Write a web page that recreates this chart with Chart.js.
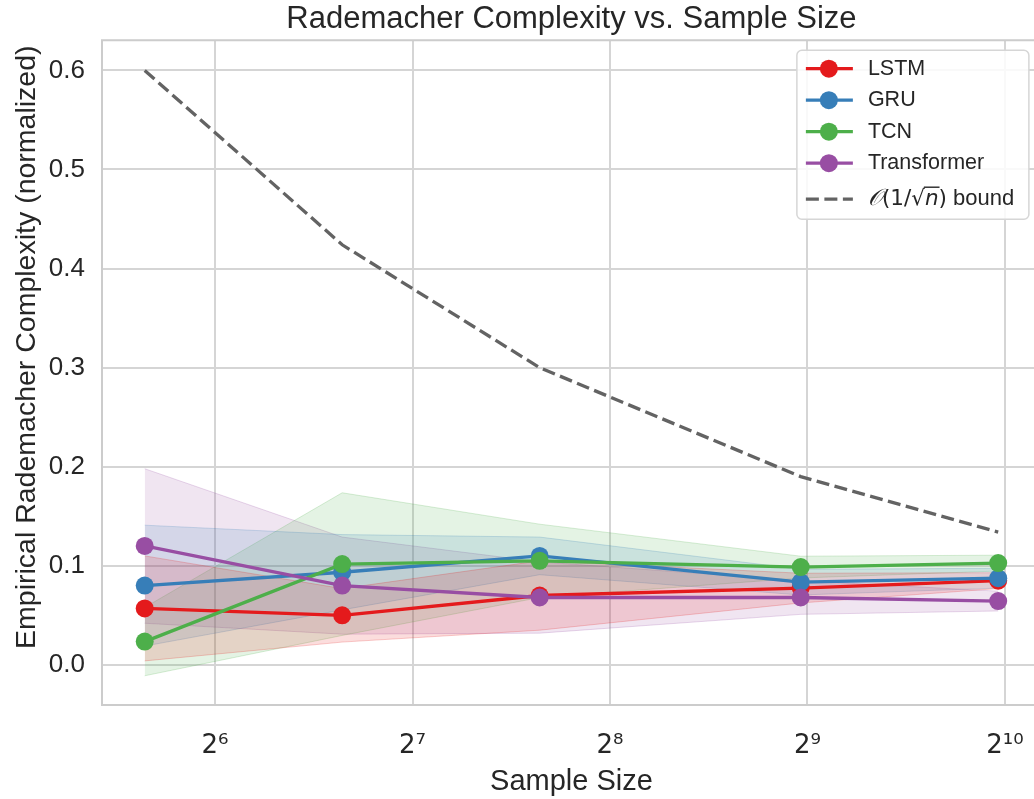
<!DOCTYPE html>
<html><head><meta charset="utf-8">
<script src="https://cdn.jsdelivr.net/npm/chart.js@4/dist/chart.umd.min.js"></script>
<style>html,body{margin:0;padding:0;overflow:hidden;background:#fff}</style>
</head><body>
<div style="width:1050px;height:799px"><canvas id="c" width="1050" height="799"></canvas></div>
<script>
// ---- data ----
const sampleSizes = [50, 100, 200, 500, 1000];
const lstmMean  = [0.057, 0.050, 0.070, 0.0775, 0.085];
const lstmStd   = [0.053, 0.027, 0.035, 0.015, 0.008];
const gruMean   = [0.080, 0.0935, 0.110, 0.0835, 0.0875];
const gruStd    = [0.061, 0.038, 0.019, 0.013, 0.010];
const tcnMean   = [0.0235, 0.1017, 0.105, 0.0987, 0.1027];
const tcnStd    = [0.0345, 0.072, 0.037, 0.011, 0.008];
const transMean = [0.120, 0.080, 0.068, 0.068, 0.0644];
const transStd  = [0.078, 0.049, 0.036, 0.017, 0.010];
const boundValues = [0.600, 0.424, 0.300, 0.190, 0.134];
const modelNames = ['LSTM', 'GRU', 'TCN', 'Transformer'];
const boundLabel = 'bound';
const xTicks = [64, 128, 256, 512, 1024];
const xTickLabels = ['2\u2076', '2\u2077', '2\u2078', '2\u2079', '2\u00B9\u2070'];
const yTicks = [0.0, 0.1, 0.2, 0.3, 0.4, 0.5, 0.6];
const titleText = 'Rademacher Complexity vs. Sample Size';
const xTitle = 'Sample Size';
const yTitle = 'Empirical Rademacher Complexity (normalized)';

// ---- styles ----
const colors = [[228,26,28],[55,126,184],[77,175,74],[152,78,163]];
const means = [lstmMean, gruMean, tcnMean, transMean];
const stds = [lstmStd, gruStd, tcnStd, transStd];
const rgba = (c, a) => `rgba(${c[0]},${c[1]},${c[2]},${a})`;
const FONT = '"Liberation Sans", Arial, sans-serif';
const TXT = '#262626';

const datasets = [];
modelNames.forEach((name, k) => {
  const c = colors[k];
  datasets.push({
    label: name + ' lower', isBand: true,
    data: sampleSizes.map((x, i) => ({x, y: means[k][i] - stds[k][i]})),
    borderColor: rgba(c, 0.22), borderWidth: 1, pointRadius: 0, fill: false, order: 20, tension: 0
  });
  datasets.push({
    label: name + ' upper', isBand: true,
    data: sampleSizes.map((x, i) => ({x, y: means[k][i] + stds[k][i]})),
    borderColor: rgba(c, 0.22), borderWidth: 1, pointRadius: 0,
    fill: '-1', backgroundColor: rgba(c, 0.15), order: 20, tension: 0
  });
});
modelNames.forEach((name, k) => {
  const c = colors[k];
  datasets.push({
    label: name, inLegend: true, markerColor: rgba(c, 1),
    data: sampleSizes.map((x, i) => ({x, y: means[k][i]})),
    borderColor: rgba(c, 1), backgroundColor: rgba(c, 1), borderWidth: 3.3,
    pointRadius: 9, pointBorderWidth: 0, pointBackgroundColor: rgba(c, 1),
    fill: false, tension: 0, order: 4 - k
  });
});
datasets.push({
  label: boundLabel, inLegend: true, isBound: true,
  data: sampleSizes.map((x, i) => ({x, y: boundValues[i]})),
  borderColor: '#636363', borderWidth: 3.3, borderDash: [13, 5.5],
  pointRadius: 0, fill: false, tension: 0, order: 0
});

// spines (left, top, bottom) and y-axis title
const framePlugin = {
  id: 'frame',
  beforeDatasetsDraw(chart) {
    const {ctx, chartArea: a} = chart;
    ctx.save();
    ctx.strokeStyle = '#cccccc';
    ctx.lineWidth = 2;
    ctx.beginPath();
    ctx.moveTo(a.right + 5, a.top); ctx.lineTo(a.left, a.top);
    ctx.lineTo(a.left, a.bottom); ctx.lineTo(a.right + 5, a.bottom);
    ctx.stroke();
    ctx.restore();
  },
  afterDraw(chart) {
    const {ctx, chartArea: a} = chart;
    ctx.save();
    ctx.translate(27, a.top + 307);
    ctx.rotate(-Math.PI / 2);
    ctx.fillStyle = TXT;
    ctx.font = '28.5px ' + FONT;
    ctx.textAlign = 'center';
    ctx.textBaseline = 'middle';
    ctx.fillText(yTitle, 0, 0);
    ctx.restore();
  }
};

// legend drawn inside axes
const legendPlugin = {
  id: 'innerLegend',
  afterDatasetsDraw(chart) {
    const {ctx, chartArea: a} = chart;
    const items = chart.data.datasets.filter(d => d.inLegend);
    const w = 232, h = 169;
    const x0 = a.right - 244, y0 = a.top + 10;
    ctx.save();
    ctx.beginPath();
    ctx.roundRect(x0, y0, w, h, 5);
    ctx.fillStyle = 'rgba(255,255,255,0.85)';
    ctx.fill();
    ctx.strokeStyle = '#d6d6d6';
    ctx.lineWidth = 1.5;
    ctx.stroke();
    const rowsY = [18.5, 50, 81.5, 113, 149];
    items.forEach((d, i) => {
      const y = y0 + rowsY[i];
      ctx.lineWidth = 3.3;
      ctx.strokeStyle = d.borderColor;
      if (d.isBound) ctx.setLineDash([13, 5.5]); else ctx.setLineDash([]);
      ctx.beginPath(); ctx.moveTo(x0 + 9, y); ctx.lineTo(x0 + 56, y); ctx.stroke();
      ctx.setLineDash([]);
      if (!d.isBound) {
        ctx.fillStyle = d.markerColor;
        ctx.beginPath(); ctx.arc(x0 + 32, y, 9, 0, Math.PI * 2); ctx.fill();
      }
      ctx.fillStyle = TXT;
      ctx.textBaseline = 'middle';
      ctx.textAlign = 'left';
      let tx = x0 + 71;
      if (!d.isBound) {
        ctx.font = '21.5px ' + FONT;
        ctx.fillText(d.label, tx, y);
      } else {
        const segs = [
          ['italic 23px "DejaVu Serif", serif', '\u{1D4AA}'],
          ['21.5px "DejaVu Sans", sans-serif', '(1/'],
          ['21.5px "DejaVu Sans", sans-serif', '\u221A', 'rootStart'],
          ['italic 21.5px "DejaVu Sans", sans-serif', 'n', 'rootEnd'],
          ['21.5px "DejaVu Sans", sans-serif', ')'],
          ['22px ' + FONT, ' ' + d.label]
        ];
        let rs = 0;
        segs.forEach(s => {
          ctx.font = s[0];
          ctx.fillText(s[1], tx, y);
          const wdt = ctx.measureText(s[1]).width;
          if (s[2] === 'rootStart') rs = tx + wdt - 1;
          if (s[2] === 'rootEnd') {
            ctx.strokeStyle = TXT; ctx.lineWidth = 1.4;
            ctx.beginPath(); ctx.moveTo(rs, y - 12); ctx.lineTo(tx + wdt + 1, y - 12); ctx.stroke();
          }
          tx += wdt;
        });
      }
    });
    ctx.restore();
  }
};

new Chart(document.getElementById('c'), {
  type: 'line',
  data: { datasets },
  options: {
    responsive: false, animation: false, devicePixelRatio: 1,
    layout: { padding: { left: 0, right: 9, top: 0, bottom: 0 } },
    plugins: {
      legend: { display: false },
      tooltip: { enabled: false },
      title: { display: true, fullSize: false, text: titleText, color: TXT,
               font: { family: FONT, size: 31, weight: 'normal' },
               padding: { top: 1, bottom: 2 } },
      filler: { propagate: false }
    },
    scales: {
      x: {
        type: 'logarithmic', min: 43.04, max: 1161.6,
        afterBuildTicks: s => { s.ticks = xTicks.map(v => ({ value: v })); },
        afterFit: s => { s.height = 94; },
        ticks: { callback: v => xTickLabels[xTicks.indexOf(v)], color: TXT,
                 font: { family: '"DejaVu Sans", sans-serif', size: 26 }, padding: 26, maxRotation: 0, autoSkip: false },
        grid: { color: '#d5d5d5', lineWidth: 2, drawTicks: false },
        border: { display: false },
        title: { display: true, text: xTitle, color: TXT,
                 font: { family: FONT, size: 29 }, padding: { top: 0, bottom: 0 } }
      },
      y: {
        type: 'linear', min: -0.0405, max: 0.6305,
        afterBuildTicks: s => { s.ticks = yTicks.map(v => ({ value: v })); },
        afterFit: s => { s.width = 102; },
        ticks: { callback: v => v.toFixed(1), color: TXT,
                 font: { family: FONT, size: 26 }, padding: 17 },
        grid: { color: '#d5d5d5', lineWidth: 2, drawTicks: false },
        border: { display: false },
        title: { display: false, text: yTitle }
      }
    }
  },
  plugins: [framePlugin, legendPlugin]
});
</script>
</body></html>
